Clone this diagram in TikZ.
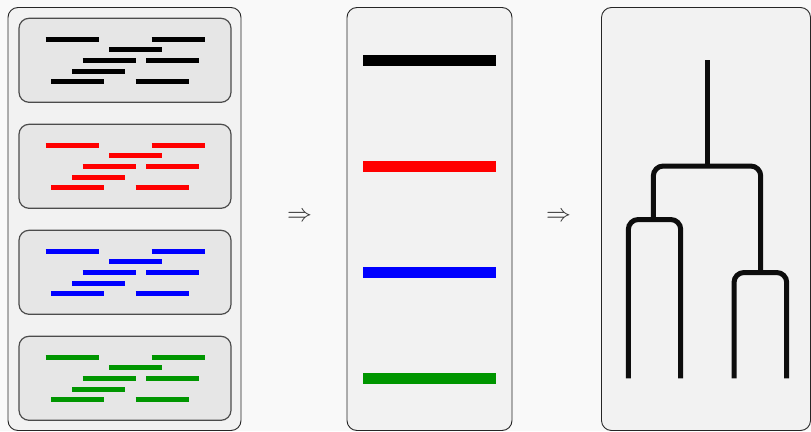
\documentclass[tikz,border=0pt]{standalone}
\usepackage{xcolor}
\definecolor{pagebg}{HTML}{F9F9F9}
\definecolor{panelfill}{HTML}{F2F2F2}
\definecolor{samplefill}{HTML}{E6E6E6}
\definecolor{readgreen}{HTML}{009600}
\definecolor{arrowgray}{HTML}{333333}
\tikzset{
  panel/.style={draw=black!85, line width=0.9pt, fill=panelfill, rounded corners=10pt,
    anchor=north west, inner sep=0pt, outer sep=0pt},
  sample/.style={draw=black!70, line width=1.2pt, fill=samplefill, rounded corners=10pt,
    anchor=north west, inner sep=0pt, outer sep=0pt,
    minimum width=212pt, minimum height=84pt},
  readbar/.style={line width=5pt},
  consbar/.style={line width=10.5pt},
  branch/.style={line width=5pt, rounded corners=10pt, draw=black!95},
  flow/.style={text=arrowgray, font=\fontsize{25}{25}\selectfont, inner sep=0pt}
}
\begin{document}
\begin{tikzpicture}[x=1pt, y=-1pt]
  \fill[pagebg] (0,0) rectangle (811,431);
  \useasboundingbox (0,0) rectangle (811,431);

  % three panels
  \node[panel, minimum width=233pt, minimum height=423pt] (reads) at (8,7.5) {};
  \node[panel, minimum width=165pt, minimum height=423pt] (consensus) at (347,7.5) {};
  \node[panel, minimum width=209pt, minimum height=423pt] (tree) at (601.5,7.5) {};

  % one sample box per colour, each with the same scatter of short reads
  \foreach \i/\c in {0/black, 1/red, 2/blue, 3/readgreen} {
    \node[sample] (sample\i) at (19, 18.3+106*\i) {};
    \foreach \xs/\r in {45.7/0, 151.7/0, 109.3/1, 82.7/2, 146/2, 72/3, 51/4, 135.7/4} {
      \draw[readbar, \c] (\xs, 18.3+106*\i+21+10.6*\r) -- ++(53,0);
    }
    \draw[consbar, \c] (363.3, 60.3+106*\i) -- (495.7, 60.3+106*\i);
  }

  % arrows between the panels
  \node[flow] (arrowA) at (299.5,217) {$\Rightarrow$};
  \node[flow] (arrowB) at (558.5,217) {$\Rightarrow$};

  % dendrogram
  \coordinate (root) at (707.3,60.3);
  \coordinate (top) at (707.3,166);
  \draw[branch] (root) -- (top);
  \draw[branch] (653.3,219.5) -- (653.3,166) -- (760.7,166) -- (760.7,272.5);
  \draw[branch] (628.3,378.3) -- (628.3,219.5) -- (680.7,219.5) -- (680.7,378.3);
  \draw[branch] (734,378.3) -- (734,272.5) -- (786.7,272.5) -- (786.7,378.3);
\end{tikzpicture}
\end{document}
